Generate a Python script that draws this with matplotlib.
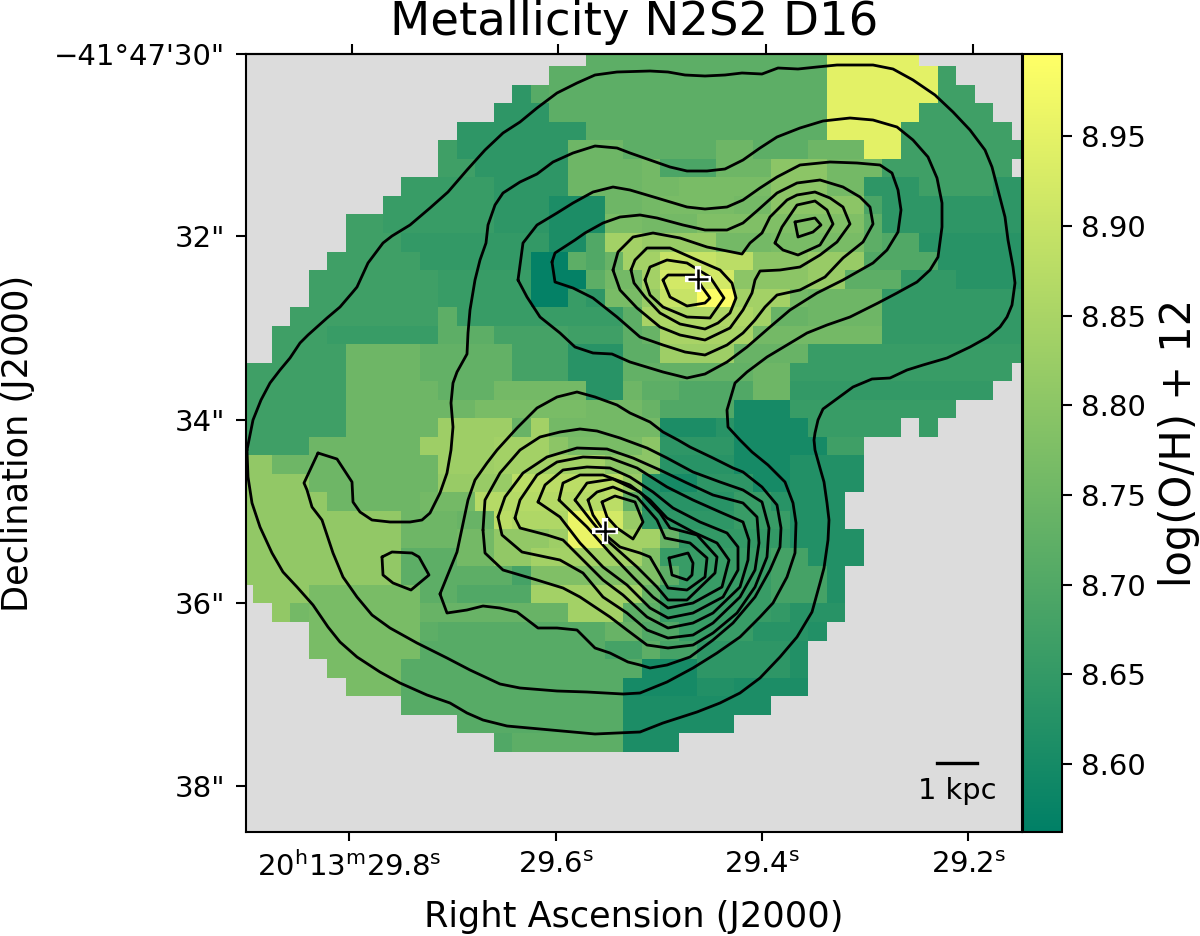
import numpy as np
import matplotlib
matplotlib.use('Agg')
import matplotlib.pyplot as plt

# metallicity map, one list per row, value is log(O/H)+12 minus 8 in hundredths, 0 = no data
row_00 = [0]*19 + [72]*13 + [95]*5
row_01 = [0]*17 + [72]*15 + [95]*6 + [67]
row_02 = [0]*15 + [64, 71] + [72]*15 + [95]*6 + [67]*2
row_03 = [0]*14 + [64]*3 + [72]*15 + [95]*5 + [67]*4
row_04 = [0]*12 + [64]*7 + [72]*13 + [95]*4 + [67]*6
row_05 = [0]*11 + [67] + [64]*6 + [75]*3 + [72]*5 + [75]*2 + [72]*3 + [75]*3 + [95]*2 + [67]*7
row_06 = [0]*11 + [67]*2 + [64]*5 + [75]*4 + [76] + [69]*3 + [75]*3 + [80]*3 + [76]*3 + [67]*7
row_07 = [0]*9 + [66]*5 + [64]*4 + [75]*4 + [76]*2 + [77]*5 + [80]*3 + [76]*2 + [64]*3 + [67]*4 + [64]*2
row_08 = [0]*8 + [66]*6 + [64]*3 + [61]*3 + [75]*2 + [76] + [77]*4 + [76]*2 + [80]*5 + [69] + [64]*8
row_09 = [0]*6 + [67]*2 + [66]*6 + [64]*3 + [61]*3 + [77]*2 + [76]*3 + [78]*9 + [72] + [64]*8
row_10 = [0]*6 + [67]*3 + [65]*8 + [61]*2 + [70] + [84]*2 + [82]*4 + [76]*3 + [77]*5 + [72] + [70]*2 + [63]*6
row_11 = [0]*5 + [67]*5 + [65]*6 + [57]*2 + [72, 70, 74, 84, 84] + [90]*3 + [88]*2 + [80]*3 + [82]*3 + [70]*4 + [63]*5
row_12 = [0]*4 + [67]*7 + [66]*5 + [57]*3 + [72] + [76]*2 + [84] + [92]*4 + [80]*4 + [82]*2 + [72]*3 + [65]*3 + [63]*4
row_13 = [0]*4 + [67]*7 + [66]*5 + [57]*2 + [66, 64] + [77]*2 + [82] + [90]*2 + [99]*2 + [84]*3 + [76] + [75]*4 + [65]*8
row_14 = [0]*3 + [67]*8 + [72] + [66]*9 + [72, 85] + [86]*5 + [84] + [74]*2 + [75]*4 + [65]*8
row_15 = [0]*2 + [67]*3 + [66]*6 + [72]*3 + [68]*4 + [67]*3 + [72, 74] + [85]*5 + [76]*7 + [65]*8
row_16 = [0]*2 + [67]*4 + [75]*4 + [73]*5 + [68]*3 + [63]*3 + [72, 72] + [83]*4 + [74]*4 + [66]*12
row_17 = [67]*6 + [75]*4 + [73]*5 + [68]*3 + [63]*3 + [73]*7 + [75]*2 + [66]*12
row_18 = [67]*6 + [75]*5 + [73]*3 + [76]*5 + [63]*2 + [75] + [72]*2 + [70]*4 + [75]*2 + [65]*11
row_19 = [67]*6 + [75]*7 + [77]*6 + [76]*3 + [74] + [70]*4 + [60]*3 + [66]*9
row_20 = [67]*6 + [75]*5 + [83]*3 + [83, 74, 84] + [76]*6 + [61]*3 + [63] + [60]*4 + [66]*5 + [0, 66]
row_21 = [67]*4 + [75]*6 + [83]*4 + [84]*3 + [80] + [77]*4 + [80] + [64]*4 + [60]*5 + [67]*2
row_22 = [81]*2 + [75]*9 + [83]*3 + [84]*6 + [80]*3 + [63]*4 + [60]*3 + [62]*4
row_23 = [81]*4 + [75]*7 + [82]*4 + [88]*6 + [82, 62] + [60]*2 + [64]*3 + [60]*2 + [62]*4
row_24 = [81]*5 + [75]*5 + [76]*3 + [87]*2 + [87]*5 + [88, 73, 62] + [63]*4 + [66]*2 + [63] + [62]*3
row_25 = [81]*9 + [75]*3 + [74]*2 + [88] + [86]*3 + [96]*2 + [92, 82] + [64]*5 + [66]*3 + [62]*3
row_26 = [81]*9 + [75]*3 + [76]*2 + [81]*3 + [83] + [96]*2 + [84]*3 + [74] + [65]*6 + [62]*4
row_27 = [81]*9 + [72]*3 + [76]*2 + [81]*2 + [84]*6 + [78] + [66]*6 + [68]*2 + [62]*3
row_28 = [81]*9 + [72]*6 + [68] + [78]*7 + [72] + [66]*5 + [68]*3 + [62]
row_29 = [0] + [81]*3 + [77]*6 + [72]*2 + [70]*4 + [84]*6 + [74] + [66]*6 + [68]*3 + [62]
row_30 = [0]*2 + [81, 76] + [77]*6 + [74]*8 + [84]*3 + [72, 72] + [66]*6 + [65] + [63]*3
row_31 = [0]*4 + [77]*6 + [72] + [71]*9 + [74]*2 + [70]*2 + [66]*4 + [63]*3 + [62]
row_32 = [0]*4 + [77]*6 + [71]*10 + [68]*2 + [72] + [68]*2 + [64]*5 + [62]
row_33 = [0]*5 + [77]*4 + [71]*13 + [60]*3 + [64]*5 + [62]
row_34 = [0]*6 + [77]*3 + [71]*12 + [60]*4 + [62]*2 + [61]*4
row_35 = [0]*9 + [71]*12 + [61]*8
row_36 = [0]*12 + [71]*9 + [61]*6
row_37 = [0]*14 + [70] + [72]*6 + [61]*3

map_rows = [row_00, row_01, row_02, row_03, row_04, row_05, row_06, row_07, row_08, row_09,
            row_10, row_11, row_12, row_13, row_14, row_15, row_16, row_17, row_18, row_19,
            row_20, row_21, row_22, row_23, row_24, row_25, row_26, row_27, row_28, row_29,
            row_30, row_31, row_32, row_33, row_34, row_35, row_36, row_37]

# flux contours, (x, y) in map units
c_outer = [(247,450),(253,420),(261,400),(270,383),(280,370),(290,358),(300,343),(308,335),(327,318),(340,307),
           (352,293),(357,287),(368,263),(383,243),(392,236),(410,225),(430,208),(448,192),(467,170),(485,150),
           (503,133),(520,122),(537,108),(557,93),(577,83),(595,75),(617,72),(650,71),(668,72),(685,75),
           (705,76),(725,75),(742,73),(762,74),(778,68),(798,69),(817,67),(837,65),(857,65),(873,65),
           (893,69),(913,80),(935,95),(953,112),(970,130),(985,150),(992,167),(998,190),(1005,217),(1008,240),
           (1013,267),(1015,283),(1012,305),(1007,317),(1000,327),(988,337),(970,347),(947,358),(923,365),(907,370),
           (890,378),(872,379),(853,387),(838,398),(823,409),(818,420),(815,433),(814,440),(815,450),(820,468),
           (824,482),(827,503),(829,520),(828,540),(824,568),(820,583),(812,612),(797,637),(780,657),(760,678),
           (740,693),(720,703),(697,712),(663,723),(640,732),(617,733),(595,734),(573,732),(540,729),(507,726),
           (483,720),(467,713),(450,703),(427,695),(400,683),(380,672),(357,657),(340,642),(328,627),(313,605),
           (297,587),(283,572),(272,553),(260,527),(252,503),(248,477),(247,450)]
c_second = [(318,453),(337,459),(352,482),(353,502),(360,512),(372,520),(390,522),(410,522),(422,520),(430,513),
            (440,493),(447,473),(451,450),(453,427),(451,403),(453,383),(457,372),(467,354),(468,333),(470,310),
            (475,280),(480,260),(486,243),(488,225),(495,205),(503,193),(520,182),(537,174),(553,162),(573,153),
            (595,146),(617,148),(630,153),(650,160),(670,167),(687,171),(707,171),(725,169),(743,160),(760,148),
            (777,137),(800,128),(823,121),(850,118),(873,120),(897,127),(913,140),(928,157),(937,178),(942,203),
            (942,227),(938,257),(930,270),(917,282),(897,293),(878,303),(850,317),(827,325),(807,333),(787,345),
            (767,357),(747,372),(735,383),(727,410),(728,427),(740,440),(752,452),(768,465),(785,482),(793,503),
            (796,523),(795,553),(787,577),(773,603),(760,617),(740,637),(717,653),(693,668),(667,682),(640,693),
            (623,694),(587,692),(557,691),(520,688),(500,684),(470,670),(447,658),(417,643),(390,628),(372,615),
            (357,597),(343,577),(333,553),(322,520),(312,507),(307,490),(304,483),(318,453)]
c_island = [(382,557),(392,552),(412,553),(419,557),(429,575),(411,590),(393,583),(383,575),(382,557)]
c_south = [(440,594),(457,552),(468,500),(475,480),(487,463),(497,450),(517,428),(537,408),(557,397),(577,392),
           (595,397),(617,405),(630,413),(650,422),(663,432),(678,440),(690,447),(713,458),(733,468),(743,472),
           (762,487),(777,505),(781,528),(780,547),(770,570),(755,597),(733,623),(713,640),(690,657),(667,665),
           (650,668),(640,665),(628,662),(610,653),(595,648),(577,630),(557,628),(538,628),(517,612),(500,608),
           (483,606),(467,610),(447,613),(440,594)]
c_d = [(483,530),(485,500),(500,473),(520,450),(540,437),(560,432),(580,429),(597,431),(620,438),(647,448),
       (667,458),(693,472),(720,482),(743,490),(762,502),(769,528),(767,557),(755,587),(737,613),(713,633),
       (693,645),(668,648),(647,645),(627,630),(610,617),(580,597),(563,588),(537,580),(503,570),(485,553),(483,530)]
c_e = [(498,517),(505,497),(523,473),(547,457),(577,448),(607,449),(633,458),(660,470),(687,483),(713,495),
       (743,503),(757,517),(759,543),(755,570),(740,597),(713,623),(693,635),(668,638),(647,630),(627,613),
       (603,597),(583,573),(560,560),(522,552),(502,535),(498,517)]
c_f = [(515,518),(520,500),(537,475),(557,462),(583,457),(610,458),(637,468),(667,487),(693,500),(720,512),
       (743,522),(749,540),(748,560),(740,587),(713,613),(693,623),(668,628),(647,617),(623,595),(603,580),
       (583,560),(563,540),(547,535),(520,528),(515,518)]
c_g = [(538,502),(545,485),(563,470),(587,467),(610,468),(630,477),(653,492),(673,508),(700,522),(727,533),
       (738,547),(738,570),(723,597),(693,613),(668,618),(650,608),(627,585),(603,567),(580,543),(560,517),(538,502)]
c_h = [(559,500),(563,483),(580,475),(603,475),(630,485),(650,500),(667,518),(693,532),(717,543),(729,560),
       (722,587),(693,603),(668,608),(653,597),(633,577),(610,553),(587,527),(559,500)]
c_i = [(575,500),(587,483),(613,479),(640,492),(660,513),(670,528),(697,535),(717,557),(715,573),(687,600),
       (668,600),(657,587),(637,567),(610,543),(593,523),(575,500)]
c_j = [(588,500),(597,492),(613,487),(637,497),(657,520),(665,538),(690,543),(707,558),(705,577),(687,590),
       (668,588),(650,557),(640,553),(620,547),(608,537),(593,515),(588,500)]
c_k = [(602,502),(615,496),(635,502),(643,522),(633,539),(617,528),(607,517),(602,502)]
c_l = [(669,558),(688,553),(693,563),(692,575),(687,580),(672,575),(669,558)]
c_dot = [(631,520),(631.5,520)]
c_n1 = [(518,280),(523,243),(537,225),(557,213),(573,203),(593,192),(613,187),(630,190),(657,198),(687,207),
        (705,209),(727,207),(743,200),(760,188),(777,177),(800,165),(830,162),(857,163),(880,165),(892,173),
        (898,190),(901,210),(898,232),(887,250),(873,263),(843,280),(817,293),(790,310),(770,327),(747,347),
        (727,362),(705,374),(687,378),(663,372),(630,362),(612,354),(593,353),(575,347),(560,333),(540,317),
        (527,297),(518,280)]
c_n2 = [(552,262),(555,253),(575,240),(585,233),(603,223),(620,217),(640,215),(657,218),(683,225),(705,230),
        (727,230),(743,223),(758,210),(777,193),(797,183),(820,180),(843,187),(860,197),(870,207),(873,224),
        (863,242),(843,258),(825,277),(800,290),(777,295),(765,307),(755,320),(743,333),(727,345),(705,355),
        (685,352),(663,345),(640,337),(617,317),(593,298),(573,288),(555,282),(552,262)]
c_n3 = [(613,270),(618,252),(633,237),(653,233),(680,238),(707,247),(742,254),(750,243),(762,233),(770,217),
        (787,200),(797,195),(815,192),(830,198),(843,207),(850,224),(837,242),(820,255),(800,267),(780,270),
        (760,271),(755,280),(752,293),(743,310),(730,328),(705,340),(680,335),(660,327),(637,308),(620,290),(613,270)]
c_n4 = [(631,270),(635,260),(647,248),(670,248),(697,260),(720,270),(732,283),(736,298),(730,313),(718,323),
        (705,329),(680,324),(660,313),(645,297),(634,283),(631,270)]
c_n5 = [(645,280),(650,267),(667,260),(687,263),(710,277),(724,298),(710,318),(687,317),(663,307),(650,295),(645,280)]
c_n6 = [(663,280),(668,275),(695,275),(702,287),(710,298),(705,303),(687,306),(670,297),(663,280)]
c_p1 = [(775,243),(782,227),(797,205),(815,201),(827,210),(833,224),(820,245),(798,255),(783,250),(775,243)]
c_p0 = [(795,222),(815,218),(821,225),(813,232),(798,237),(795,222)]
contours = [c_outer, c_second, c_island, c_south, c_d, c_e, c_f, c_g, c_h, c_i, c_j, c_k, c_l, c_dot,
            c_n1, c_n2, c_n3, c_n4, c_n5, c_n6, c_p1, c_p0]

# nuclei
nuclei_x = [698, 605]
nuclei_y = [279, 531]

ra_ticks = [349, 556, 762, 968]
ra_ticks_top = [352, 558, 766, 973]
ra_labels = ['20$^{\\mathrm{h}}$13$^{\\mathrm{m}}$29.8$^{\\mathrm{s}}$', '29.6$^{\\mathrm{s}}$',
             '29.4$^{\\mathrm{s}}$', '29.2$^{\\mathrm{s}}$']
dec_ticks = [54, 236, 420, 603, 786]
dec_labels = ['\u221241\u00b047\'30"', '32"', '34"', '36"', '38"']
cbar_ticks = [8.60, 8.65, 8.70, 8.75, 8.80, 8.85, 8.90, 8.95]

vmin = 8.562
vmax = 8.996
spaxel = 18.5
map_left = 234.8
map_top = 48.8

grid = np.zeros((43, 43))
for i, r in enumerate(map_rows):
    grid[i, :len(r)] = r
metal = np.ma.masked_where(grid == 0, 8 + grid / 100)

fig = plt.figure(figsize=(12, 9.36), dpi=100)
ax = fig.add_axes([246/1200, 1 - 832/936, 776/1200, 778/936])
ax.set_facecolor('#dcdcdc')
im = ax.imshow(metal, cmap='summer', vmin=vmin, vmax=vmax, interpolation='nearest', aspect='auto',
               extent=(map_left, map_left + 43*spaxel, map_top + 43*spaxel, map_top))
for c in contours:
    c = np.array(c)
    ax.plot(c[:, 0], c[:, 1], color='k', lw=2.0, solid_joinstyle='round', solid_capstyle='round')
ax.plot(nuclei_x, nuclei_y, ls='none', marker='+', ms=19, mew=4.5, color='white')
ax.plot(nuclei_x, nuclei_y, ls='none', marker='+', ms=15, mew=1.8, color='k')

# scale bar
ax.plot([937, 977], [763, 763], color='k', lw=2.4)
ax.text(957, 791, '1 kpc', ha='center', va='center', fontsize=20.8)

ax.set_xlim(246, 1022)
ax.set_ylim(832, 54)
ax.set_xticks(ra_ticks)
ax.set_xticklabels(ra_labels)
ax.set_yticks(dec_ticks)
ax.set_yticklabels(dec_labels)
ax.tick_params(length=7, width=1.5, labelsize=21, pad=8)
ax.tick_params(axis='x', length=6.3, pad=7.5)
top = ax.secondary_xaxis('top')
top.set_xticks(ra_ticks_top)
top.set_xticklabels([])
top.tick_params(length=7, width=1.5)
for s in list(ax.spines.values()) + list(top.spines.values()):
    s.set_linewidth(1.5)
ax.set_xlabel('Right Ascension (J2000)', fontsize=25.3, labelpad=13)
ax.set_ylabel('Declination (J2000)', fontsize=25.3, labelpad=14)
fig.text(634/1200, 1 - 35/936, 'Metallicity N2S2 D16', ha='center', va='baseline', fontsize=33.6)

cax = fig.add_axes([1023/1200, 1 - 832/936, 39/1200, 778/936])
cb = fig.colorbar(im, cax=cax)
cb.set_ticks(cbar_ticks)
cb.set_ticklabels(['%.2f' % t for t in cbar_ticks])
cb.ax.tick_params(length=7, width=1.5, labelsize=21, pad=7)
cb.outline.set_linewidth(1.5)
fig.text(1179/1200, 1 - 443/936, 'log(O/H) + 12', rotation=90, ha='center', va='center', fontsize=30)

plt.savefig('out.png', dpi=100)
